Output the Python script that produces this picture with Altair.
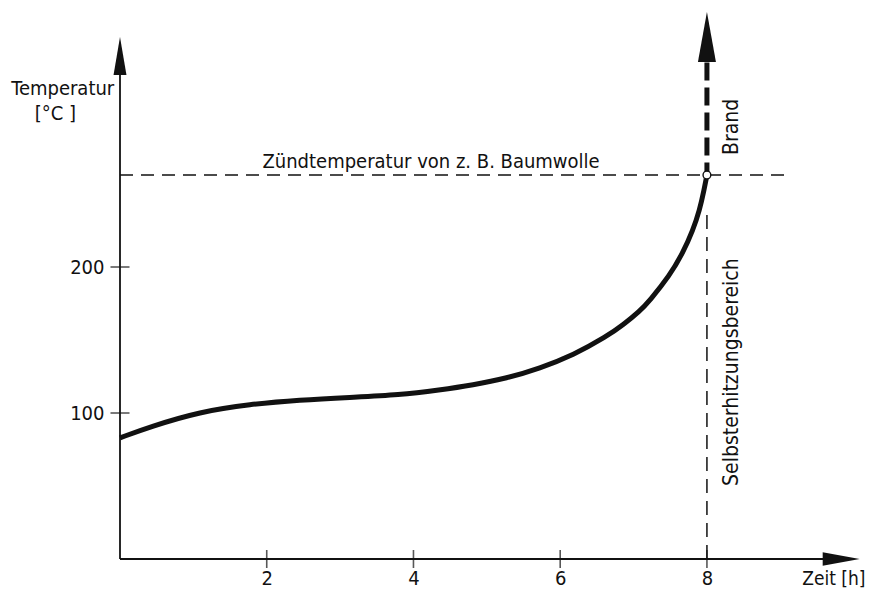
import altair as alt
import pandas as pd

FONT = "DejaVu Sans Condensed, Liberation Sans Narrow, DejaVu Sans, sans-serif"
INK = "#111111"

# ---- data ----
time_h = [0.0, 0.41, 1.09, 1.77, 2.45, 3.13, 3.81, 4.36, 4.81, 5.27, 5.72,
          6.18, 6.63, 6.86, 7.08, 7.22, 7.49, 7.67, 7.81, 7.90, 7.96, 8.0]
temp_c = [83, 90.6, 100.9, 106, 108.9, 110.7, 112.3, 115.8, 119.2, 123.8, 130.6,
          139.7, 152.3, 160.5, 169.5, 177, 194, 209.4, 225.3, 239, 252.7, 263]

x_ticks = [2, 4, 6, 8]
y_ticks = [100, 200]

t_ignite = 8.0
T_ignite = 263
ignite_line_end = 9.06
selbst_top = 240
brand_shaft_top = 340

x_axis_end = 9.6
y_axis_end = 331.5
x_arrow_center = 9.83
y_arrow_center = 344.5
brand_arrow_center = 357.5

labels_plain = [
    {"t": -0.78, "T": 318, "txt": "Temperatur"},
    {"t": -0.88, "T": 300.5, "txt": "[°C ]"},
    {"t": 4.24, "T": 268, "txt": "Zündtemperatur von z. B. Baumwolle"},
]
labels_rot = [
    {"t": 8.34, "T": 128, "txt": "Selbsterhitzungsbereich"},
    {"t": 8.34, "T": 296, "txt": "Brand"},
]
label_x_title = [{"t": 9.73, "T": -17.8, "txt": "Zeit [h]"}]

# ---- shared scales and axes ----
xs = alt.Scale(domain=[0, 10.1], nice=False, zero=False)
ys = alt.Scale(domain=[0, 377.4], nice=False, zero=False)
x_axis = alt.Axis(values=x_ticks, title=None, ticks=False, domain=False, grid=False,
                  labelFont=FONT, labelFontSize=20, labelColor=INK, labelPadding=9,
                  labelFlush=False)
y_axis = alt.Axis(values=y_ticks, title=None, ticks=False, domain=False, grid=False,
                  labelFont=FONT, labelFontSize=20, labelColor=INK, labelPadding=16)


def X(field="t"):
    return alt.X(f"{field}:Q", scale=xs, axis=x_axis)


def Y(field="T"):
    return alt.Y(f"{field}:Q", scale=ys, axis=y_axis)


curve_df = pd.DataFrame({"t": time_h, "T": temp_c})

x_tick_marks = alt.Chart(pd.DataFrame({"t": x_ticks, "T": [0] * len(x_ticks)})).mark_tick(
    orient="vertical", size=18, thickness=1.6, color=INK
).encode(x=X(), y=Y())

y_tick_marks = alt.Chart(pd.DataFrame({"t": [0] * len(y_ticks), "T": y_ticks})).mark_tick(
    orient="horizontal", size=19, thickness=1.6, color=INK
).encode(x=X(), y=Y())

x_axis_line = alt.Chart(pd.DataFrame({"t": [0], "t2": [x_axis_end], "T": [0]})).mark_rule(
    color=INK, strokeWidth=1.8
).encode(x=X(), x2="t2:Q", y=Y())

y_axis_line = alt.Chart(pd.DataFrame({"t": [0], "T": [0], "T2": [y_axis_end]})).mark_rule(
    color=INK, strokeWidth=1.8
).encode(x=X(), y=Y(), y2="T2:Q")

x_arrow = alt.Chart(pd.DataFrame({"t": [x_arrow_center], "T": [0]})).mark_point(
    shape="M1,0L-1,0.36L-1,-0.36Z", filled=True, size=1369, color=INK, opacity=1, strokeWidth=0
).encode(x=X(), y=Y())

y_arrow = alt.Chart(pd.DataFrame({"t": [0], "T": [y_arrow_center]})).mark_point(
    shape="M0,-1L0.34,1L-0.34,1Z", filled=True, size=1444, color=INK, opacity=1, strokeWidth=0
).encode(x=X(), y=Y())

brand_arrow = alt.Chart(pd.DataFrame({"t": [t_ignite], "T": [brand_arrow_center]})).mark_point(
    shape="M0,-1L0.36,1L-0.36,1Z", filled=True, size=2500, color=INK, opacity=1, strokeWidth=0
).encode(x=X(), y=Y())

ignite_line = alt.Chart(pd.DataFrame({"t": [0], "t2": [ignite_line_end], "T": [T_ignite]})).mark_rule(
    color=INK, strokeWidth=1.5, strokeDash=[13, 8]
).encode(x=X(), x2="t2:Q", y=Y())

selbst_line = alt.Chart(pd.DataFrame({"t": [t_ignite], "T": [0], "T2": [selbst_top]})).mark_rule(
    color=INK, strokeWidth=1.5, strokeDash=[14, 8]
).encode(x=X(), y=Y(), y2="T2:Q")

curve = alt.Chart(curve_df).mark_line(color=INK, strokeWidth=5, interpolate="basis").encode(
    x=X(), y=Y()
)

brand_line = alt.Chart(pd.DataFrame({"t": [t_ignite, t_ignite], "T": [brand_shaft_top, T_ignite],
                                     "o": [0, 1]})).mark_line(
    color=INK, strokeWidth=5, strokeDash=[18, 7]
).encode(x=X(), y=Y(), order="o:Q")

circle = alt.Chart(pd.DataFrame({"t": [t_ignite], "T": [T_ignite]})).mark_point(
    shape="circle", size=60, filled=False, fill="white", fillOpacity=1, color=INK,
    strokeWidth=1.4, opacity=1
).encode(x=X(), y=Y())

text_plain = alt.Chart(pd.DataFrame(labels_plain)).mark_text(
    font=FONT, fontSize=20, color=INK, align="center", baseline="alphabetic"
).encode(x=X(), y=Y(), text="txt:N")

text_rot = alt.Chart(pd.DataFrame(labels_rot)).mark_text(
    font=FONT, fontSize=21, color=INK, align="center", baseline="middle", angle=270
).encode(x=X(), y=Y(), text="txt:N")

text_title = alt.Chart(pd.DataFrame(label_x_title)).mark_text(
    font=FONT, fontSize=19, color=INK, align="center", baseline="alphabetic"
).encode(x=X(), y=Y(), text="txt:N")

chart = alt.layer(
    x_tick_marks, y_tick_marks, x_axis_line, y_axis_line, x_arrow, y_arrow,
    ignite_line, selbst_line, curve, brand_line, brand_arrow, circle,
    text_plain, text_rot, text_title,
).properties(
    width=741, height=551,
    padding={"left": 112, "top": 0, "right": 8, "bottom": 30},
    autosize=alt.AutoSizeParams(type="none"),
    background="white",
).configure_view(stroke=None)

chart.save("out.html", embed_options={"renderer": "svg", "actions": False})
